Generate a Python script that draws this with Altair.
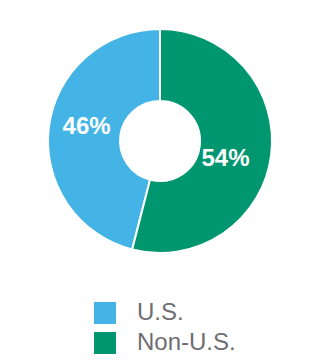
import altair as alt
import pandas as pd

categories = ["U.S.", "Non-U.S."]
values = [46, 54]
labels = ["46%", "54%"]
colors = ["#43b4e5", "#009670"]

df = pd.DataFrame({"category": categories, "value": values, "label": labels})

cx, cy = 160, 141

base = alt.Chart(df).encode(
    theta=alt.Theta("value:Q", stack=True),
    order=alt.Order("category:N", sort="ascending"),
    x=alt.value(cx),
    y=alt.value(cy),
)

arc = base.mark_arc(outerRadius=112, innerRadius=40, stroke="white", strokeWidth=2).encode(
    color=alt.Color(
        "category:N",
        scale=alt.Scale(domain=categories, range=colors),
        legend=alt.Legend(
            title=None,
            orient="none",
            legendX=93,
            legendY=301,
            symbolType="square",
            symbolSize=484,
            symbolStrokeWidth=0,
            symbolOpacity=1,
            labelFontSize=24,
            labelFont="Liberation Sans",
            labelColor="#6d6e71",
            labelOffset=20,
            rowPadding=6,
            padding=0,
        ),
    )
)

text_us = base.mark_text(
    radius=74, fontSize=24, fontWeight="bold", color="white", font="Liberation Sans", dy=-5
).encode(
    text=alt.condition(alt.datum.category == "U.S.", "label:N", alt.value(""))
)

text_non = base.mark_text(
    radius=66, fontSize=24, fontWeight="bold", color="white", font="Liberation Sans", dy=10
).encode(
    text=alt.condition(alt.datum.category == "Non-U.S.", "label:N", alt.value(""))
)

chart = alt.layer(arc, text_us, text_non).properties(
    width=320, height=360, autosize="none", padding=0
).configure_view(stroke=None)

chart.save("out.html", embed_options={"renderer": "svg", "actions": False})
